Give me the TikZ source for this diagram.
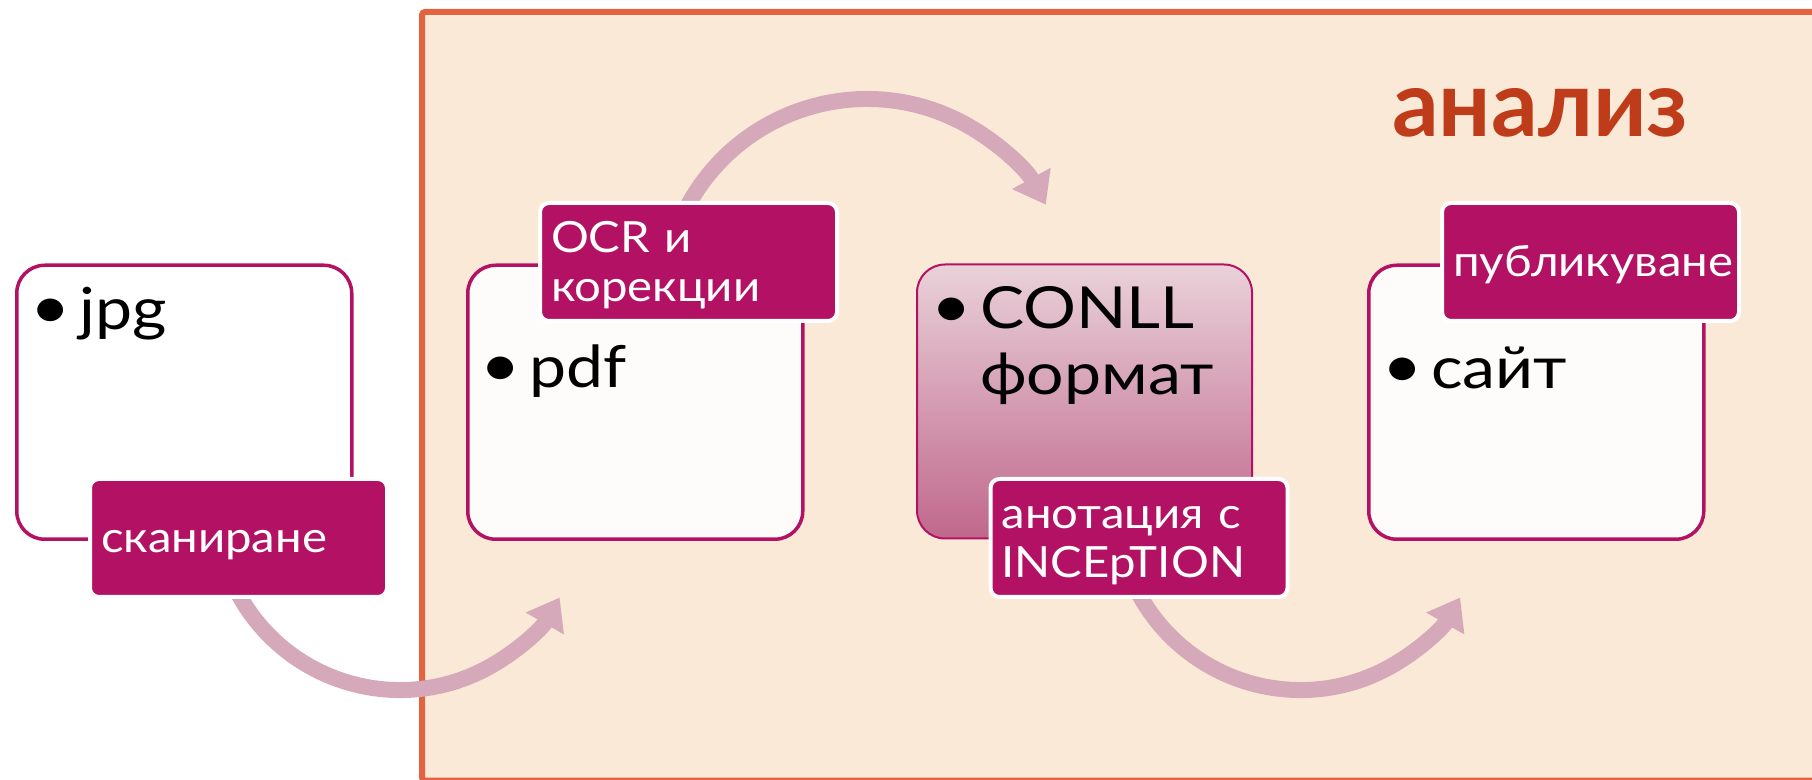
\documentclass[tikz,border=0pt]{standalone}
\usepackage{fontspec}
\setmainfont{Lato}
\usetikzlibrary{arrows.meta}

\definecolor{panelfill}{RGB}{251,233,216}
\definecolor{panelline}{RGB}{227,99,65}
\definecolor{plum}{RGB}{179,18,100}
\definecolor{flowpink}{RGB}{214,169,186}
\definecolor{cardwhite}{RGB}{254,252,250}
\definecolor{headred}{RGB}{190,60,26}
\definecolor{conlltop}{RGB}{233,209,217}
\definecolor{conllmid}{RGB}{219,172,190}
\definecolor{conllbot}{RGB}{192,104,140}

\pgfdeclarelayer{cardlayer}
\pgfdeclarelayer{flowlayer}
\pgfsetlayers{cardlayer,flowlayer,main}

% bullet line(s) inside a card
\newcommand{\bitem}[1]{\begin{tabular}[t]{@{}p{42pt}@{}l@{}}\hspace*{-7pt}\raisebox{1pt}{\scalebox{1.05}{•}}&#1\end{tabular}}

\tikzset{
  card/.style={draw=plum, line width=3.5pt, rounded corners=28pt,
    minimum width=335pt, minimum height=274pt, inner sep=0pt, anchor=north west},
  tag/.style={fill=plum, draw=white, line width=4pt, rounded corners=9pt,
    minimum width=297pt, minimum height=118pt, inner xsep=11pt, text width=275pt,
    align=left, text=white,
    execute at begin node={\rule{0pt}{38pt}},
    execute at end node={\rule[-8pt]{0pt}{0pt}},
    font=\fontsize{43}{49}\selectfont\addfontfeature{FakeStretch=1.1}},
  item/.style={anchor=base west, inner sep=0pt,
    font=\fontsize{58}{66}\selectfont\addfontfeature{FakeStretch=1.14}},
  flow/.style={draw=flowpink, line width=16pt, -{Triangle[width=42pt,length=30pt]}},
}

\begin{document}
\begin{tikzpicture}[x=1pt,y=1pt]
\useasboundingbox (0,0) rectangle (1812,779);

\begin{pgfonlayer}{cardlayer}
  \fill[white] (0,0) rectangle (1812,779);
  \filldraw[fill=panelfill, draw=panelline, line width=6pt, rounded corners=3pt]
    (422,-1.5) rectangle (1830,767);
  % the four cards
  \node[card, fill=white] (jpg) at (15,515.5) {};
  \node[card, fill=cardwhite] (pdf) at (466,515.5) {};
  \node[card, line width=2pt, top color=conlltop, middle color=conllmid,
    bottom color=conllbot] (conll) at (916,515.5) {};
  \node[card, fill=cardwhite] (site) at (1367,515.5) {};
\end{pgfonlayer}

\node[item] (jpgtxt) at (37,449) {\bitem{jpg}};
\node[item] (pdftxt) at (487,391) {\bitem{pdf}};
\node[item] (conlltxt) at (938,450) {\bitem{CONLL\\&формат}};
\node[item] (sitetxt) at (1389,390) {\bitem{сайт}};

% step labels
\node[tag] (scan) at (238.5,241) {сканиране};
\node[tag] (ocr) at (688.5,517) {OCR и\\корекции};
\node[tag] (annot) at (1139,241) {анотация с\\INCEpTION};
\node[tag] (publ) at (1590.5,517) {публикуване};

\node[anchor=base west, inner sep=0pt, text=headred,
  font=\fontsize{92}{92}\selectfont\bfseries] (title) at (1392,642) {анализ};

\begin{pgfonlayer}{flowlayer}
  \draw[flow] ([xshift=-1.7pt,yshift=8pt]scan.south)
    arc[start angle=207.5, end angle=330.2, radius=184];
  \draw[flow] ([xshift=-2.5pt,yshift=-8pt]ocr.north)
    arc[start angle=152.56, end angle=28.8, radius=204];
  \draw[flow] ([xshift=-1.7pt,yshift=8pt]annot.south)
    arc[start angle=207.5, end angle=330.2, radius=184];
\end{pgfonlayer}
\end{tikzpicture}
\end{document}
